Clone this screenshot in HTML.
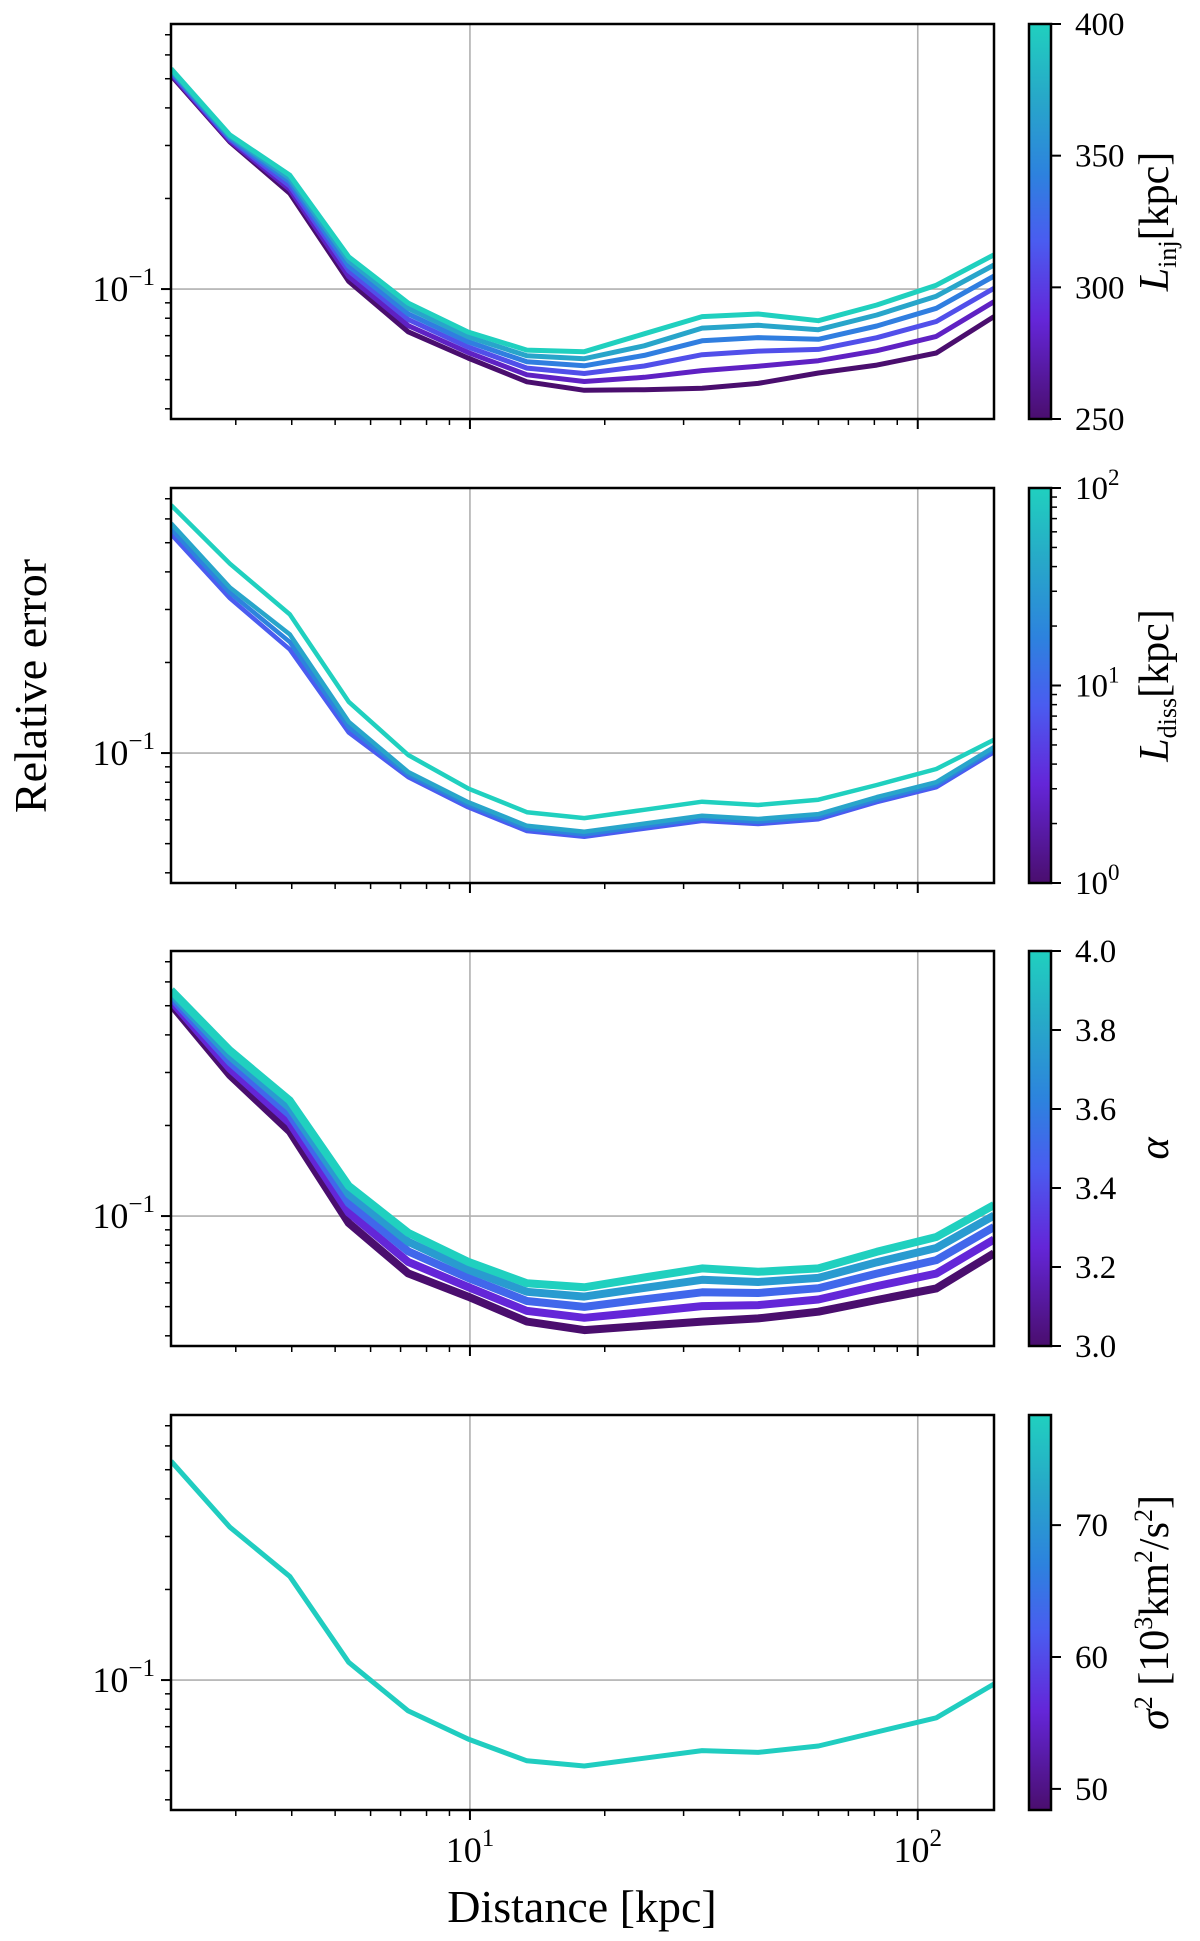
<!DOCTYPE html>
<html><head><meta charset="utf-8">
<style>
html,body{margin:0;padding:0;background:#fff;}
svg{display:block;}
text{font-family:"Liberation Serif","DejaVu Serif",serif;fill:#000;}
</style></head>
<body>
<svg id="fig" width="1200" height="1941" viewBox="0 0 1200 1941" xmlns="http://www.w3.org/2000/svg">
<defs>
<linearGradient id="cmap" x1="0" y1="1" x2="0" y2="0">
<stop offset="0" stop-color="#4a0e6e"/>
<stop offset="0.25" stop-color="#6426d8"/>
<stop offset="0.45" stop-color="#4a5cf0"/>
<stop offset="0.62" stop-color="#2d82de"/>
<stop offset="0.82" stop-color="#27a9c8"/>
<stop offset="1" stop-color="#20d0bf"/>
</linearGradient>
</defs>
</svg>
<script>
// ---------- data ----------
const distances = [2.15,2.91,3.96,5.36,7.28,9.9,13.4,18.0,24.5,33,44,60,81,110,148];

const linjValues = [250,280,310,340,370,400];
const linj250 = [0.513,0.308,0.208,0.106,0.0721,0.059,0.0492,0.0461,0.0463,0.0468,0.0486,0.0526,0.0559,0.0613,0.081];
const linj280 = [0.518,0.311,0.214,0.110,0.0756,0.0616,0.0519,0.0493,0.0509,0.0536,0.0554,0.0578,0.0624,0.0696,0.0908];
const linj310 = [0.524,0.315,0.220,0.115,0.0792,0.0642,0.0546,0.0524,0.0555,0.0605,0.0622,0.0630,0.0689,0.0780,0.1006];
const linj340 = [0.529,0.318,0.227,0.119,0.0827,0.0668,0.0573,0.0556,0.0602,0.0673,0.0690,0.0681,0.0754,0.0863,0.1104];
const linj370 = [0.535,0.322,0.233,0.124,0.0863,0.0694,0.0600,0.0587,0.0648,0.0742,0.0758,0.0733,0.0820,0.0947,0.1202];
const linj400 = [0.54,0.325,0.239,0.128,0.0898,0.072,0.0627,0.0619,0.0710,0.081,0.0826,0.0785,0.0885,0.103,0.130];

const ldissValues = [8,18,40,100];
const ldiss8 = [0.534,0.327,0.221,0.117,0.0832,0.0661,0.0551,0.0527,0.0561,0.0595,0.0581,0.0603,0.0687,0.077,0.1007];
const ldiss18 = [0.556,0.341,0.234,0.122,0.0848,0.0674,0.0562,0.0537,0.0572,0.0607,0.0592,0.0615,0.070,0.0785,0.1027];
const ldiss40 = [0.58,0.355,0.248,0.127,0.0865,0.0687,0.0573,0.0548,0.0583,0.0619,0.0604,0.0627,0.0714,0.080,0.1047];
const ldiss100 = [0.667,0.426,0.289,0.148,0.0985,0.0763,0.0636,0.0608,0.0648,0.0689,0.0672,0.070,0.0783,0.0885,0.1107];

const alphaValues = [3.0,3.25,3.5,3.75,4.0];
const alpha300 = [0.506,0.294,0.191,0.0948,0.0645,0.054,0.0446,0.0418,0.0432,0.0446,0.0457,0.0481,0.0526,0.0575,0.0752];
const alpha325 = [0.520,0.309,0.204,0.1026,0.0704,0.0581,0.0484,0.0459,0.0480,0.0502,0.0506,0.0528,0.0585,0.0644,0.0836];
const alpha350 = [0.535,0.325,0.217,0.1104,0.0763,0.0623,0.0522,0.0499,0.0529,0.0558,0.0555,0.0576,0.0644,0.0714,0.0920];
const alpha375 = [0.549,0.340,0.229,0.1182,0.0821,0.0664,0.0560,0.0540,0.0577,0.0614,0.0604,0.0623,0.0702,0.0783,0.1004];
const alpha400 = [0.563,0.355,0.242,0.126,0.088,0.0705,0.0598,0.058,0.0625,0.067,0.0653,0.067,0.0761,0.0852,0.1088];

const sigmaValues = [78];
const sigma78 = [0.534,0.322,0.221,0.1146,0.079,0.0637,0.0539,0.0518,0.055,0.0583,0.0575,0.0604,0.0672,0.0749,0.097];

const cbTicks1 = [250,300,350,400];
const cbTicks2 = [1,10,100];
const cbTickLabels2 = ["0","1","2"];
const cbTicks3 = [3.0,3.2,3.4,3.6,3.8,4.0];
const cbTicks4 = [50,60,70];
const xMajorTicks = [10,100];
const xMajorLabels = ["1","2"];

// ---------- layout ----------
const NS="http://www.w3.org/2000/svg";
const svg=document.getElementById('fig');
const L=171,R=994,H=395;
const tops=[24,488,951,1415];
const XMIN=2.15,XMAX=148,YMIN=0.037,YMAX=0.76;
const CBX=1029,CBW=22;
function xs(v){return L+(Math.log10(v)-Math.log10(XMIN))/(Math.log10(XMAX)-Math.log10(XMIN))*(R-L);}
function ys(v,top){return top+H-(Math.log10(v)-Math.log10(YMIN))/(Math.log10(YMAX)-Math.log10(YMIN))*H;}
function mk(tag,attrs,parent){const e=document.createElementNS(NS,tag);for(const k in attrs)e.setAttribute(k,attrs[k]);(parent||svg).appendChild(e);return e;}
const stops=[[0,[74,14,110]],[0.25,[100,38,216]],[0.45,[74,92,240]],[0.62,[45,130,222]],[0.82,[39,169,200]],[1,[32,208,191]]];
function cmap(t){t=Math.max(0,Math.min(1,t));for(let i=1;i<stops.length;i++){if(t<=stops[i][0]){const a=stops[i-1],b=stops[i];const f=(t-a[0])/(b[0]-a[0]);const c=a[1].map((v,j)=>Math.round(v+(b[1][j]-v)*f));return `rgb(${c[0]},${c[1]},${c[2]})`;}}return 'rgb(32,208,191)';}

const panels=[
 {series:[linj250,linj280,linj310,linj340,linj370,linj400],vals:linjValues,vmin:250,vmax:400,log:false,w:5,name:'linj'},
 {series:[ldiss8,ldiss18,ldiss40,ldiss100],vals:ldissValues,vmin:1,vmax:100,log:true,w:4.5,name:'ldiss'},
 {series:[alpha300,alpha325,alpha350,alpha375,alpha400],vals:alphaValues,vmin:3.0,vmax:4.0,log:false,w:8,name:'alpha'},
 {series:[sigma78],vals:sigmaValues,vmin:48.4,vmax:78.35,log:false,w:5,name:'sigma'}
];

panels.forEach((p,pi)=>{
  const top=tops[pi];
  const g=mk('g',{});
  
  
  const clipId='clip'+pi;
  const cp=mk('clipPath',{id:clipId},g);mk('rect',{x:L,y:top,width:R-L,height:H},cp);
  xMajorTicks.forEach(t=>{const l=mk('line',{x1:xs(t),x2:xs(t),y1:top,y2:top+H,stroke:'#b0b0b0','stroke-width':1.6},g);});
  const hg=mk('line',{x1:L,x2:R,y1:ys(0.1,top),y2:ys(0.1,top),stroke:'#b0b0b0','stroke-width':1.6},g);
  
  const lg=mk('g',{'clip-path':`url(#${clipId})`},g);
  p.series.forEach((s,si)=>{
    const v=p.vals[si];
    const t=p.log?(Math.log10(v)-Math.log10(p.vmin))/(Math.log10(p.vmax)-Math.log10(p.vmin)):(v-p.vmin)/(p.vmax-p.vmin);
    const d=s.map((y,i)=>(i?'L':'M')+xs(distances[i]).toFixed(1)+','+ys(y,top).toFixed(1)).join(' ');
    const path=mk('path',{d:d,fill:'none',stroke:cmap(t),'stroke-width':p.w,'stroke-linejoin':'round'},lg);
    
    
  });
  for(let dec=1;dec<=100;dec*=10){for(let m=1;m<10;m++){const v=dec*m;if(v<XMIN||v>XMAX)continue;const x=xs(v);const major=(m===1);
    const tk=mk('line',{x1:x,x2:x,y1:top+H,y2:top+H+(major?10:6),stroke:'#000','stroke-width':major?2:1.5},g);
    }}
  for(let dec=0.01;dec<=0.1;dec*=10){for(let m=1;m<10;m++){const v=dec*m;if(v<YMIN||v>YMAX)continue;const y=ys(v,top);const major=Math.abs(v-0.1)<1e-9;
    const tk=mk('line',{x1:L,x2:L-(major?10:6),y1:y,y2:y,stroke:'#000','stroke-width':major?2:1.5},g);
    }}
  const yl=mk('text',{x:L-16,y:ys(0.1,top)+12,'text-anchor':'end','font-size':36},g);
  
  yl.innerHTML='10<tspan dy="-16" font-size="25">−1</tspan>';
  const fr=mk('rect',{x:L,y:top,width:R-L,height:H,fill:'none',stroke:'#000','stroke-width':2.5},g);
  
  const cb=mk('g',{},svg);
  
  mk('rect',{x:CBX,y:top,width:CBW,height:H,fill:'url(#cmap)',stroke:'#000','stroke-width':2.5},cb);
  function cy(v){const t=p.log?(Math.log10(v)-Math.log10(p.vmin))/(Math.log10(p.vmax)-Math.log10(p.vmin)):(v-p.vmin)/(p.vmax-p.vmin);return top+H-t*H;}
  function cbTick(v,label,minor){const y=cy(v);
    const tl=mk('line',{x1:CBX+CBW,x2:CBX+CBW+(minor?6:10),y1:y,y2:y,stroke:'#000','stroke-width':minor?1.5:2},cb);
    
    if(label!==null){const tx=mk('text',{x:1075,y:y+11,'font-size':33},cb);tx.innerHTML=label;}}
  if(pi===0) cbTicks1.forEach(v=>cbTick(v,String(v)));
  if(pi===1){cbTicks2.forEach((v,i)=>cbTick(v,'10<tspan dy="-14" font-size="23">'+cbTickLabels2[i]+'</tspan>'));
    [2,3,4,5,6,7,8,9,20,30,40,50,60,70,80,90].forEach(v=>cbTick(v,null,true));}
  if(pi===2) cbTicks3.forEach(v=>cbTick(v,v.toFixed(1)));
  if(pi===3) cbTicks4.forEach(v=>cbTick(v,String(v)));
});

const labels=[
 ['<tspan font-style="italic">L</tspan><tspan font-size="26" dy="8">inj</tspan><tspan dy="-8">[kpc]</tspan>','colorbar-label-linj'],
 ['<tspan font-style="italic">L</tspan><tspan font-size="26" dy="8">diss</tspan><tspan dy="-8">[kpc]</tspan>','colorbar-label-ldiss'],
 ['<tspan font-style="italic">α</tspan>','colorbar-label-alpha'],
 ['<tspan font-style="italic">σ</tspan><tspan font-size="26" dy="-16">2</tspan><tspan dy="16"> [10</tspan><tspan font-size="26" dy="-16">3</tspan><tspan dy="16">km</tspan><tspan font-size="26" dy="-16">2</tspan><tspan dy="16">/s</tspan><tspan font-size="26" dy="-16">2</tspan><tspan dy="16">]</tspan>','colorbar-label-sigma']
];
labels.forEach((lb,i)=>{const cyc=tops[i]+H/2;
  const t=mk('text',{x:0,y:0,'font-size':42,'text-anchor':'middle',transform:`translate(1168,${cyc}) rotate(-90)`});
  t.innerHTML=lb[0];});

xMajorTicks.forEach((v,i)=>{const t=mk('text',{x:xs(v),y:1862,'font-size':36,'text-anchor':'middle'});
  
  t.innerHTML='10<tspan dy="-16" font-size="25">'+xMajorLabels[i]+'</tspan>';});
const xt=mk('text',{x:582,y:1922,'font-size':46,'text-anchor':'middle'});
xt.textContent='Distance [kpc]';
const yt=mk('text',{x:0,y:0,'font-size':46,'text-anchor':'middle',transform:'translate(46,686) rotate(-90)'});
yt.textContent='Relative error';
</script>
</body></html>
